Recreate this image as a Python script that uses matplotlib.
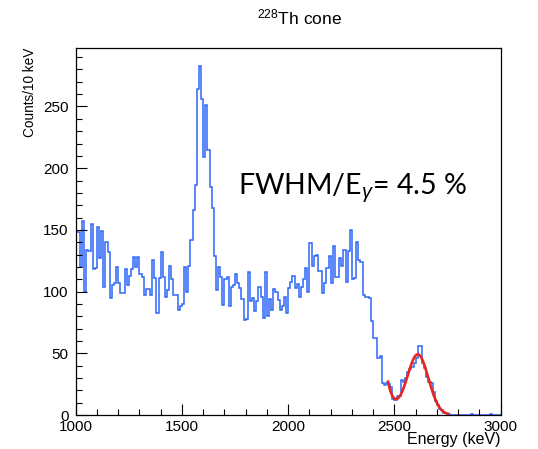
import numpy as np
import matplotlib
matplotlib.use("Agg")
import matplotlib.pyplot as plt
from matplotlib.ticker import MultipleLocator

plt.rcParams['font.family'] = ['Liberation Sans', 'DejaVu Sans']
plt.rcParams['mathtext.fontset'] = 'custom'
plt.rcParams['mathtext.rm'] = 'Liberation Sans'
plt.rcParams['mathtext.it'] = 'Liberation Sans:italic'

# 228Th spectrum, 10 keV bins from 1000 to 3000 keV
e_lo, e_hi, bin_w = 1000, 3000, 10
counts_1000_1500 = [148, 148, 120, 157, 100, 134, 133, 155, 118, 119,
                    152, 127, 149, 104, 140, 132, 95, 105, 107, 120,
                    107, 99, 99, 118, 105, 113, 118, 128, 120, 128,
                    114, 112, 97, 102, 102, 97, 126, 111, 83, 111,
                    132, 112, 96, 101, 121, 110, 97, 97, 85, 88]
counts_1500_2000 = [90, 120, 100, 121, 142, 166, 186, 264, 283, 256,
                    209, 251, 215, 185, 168, 129, 101, 120, 112, 89,
                    110, 112, 88, 104, 105, 114, 107, 103, 94, 77,
                    78, 116, 92, 95, 84, 92, 104, 96, 79, 116,
                    80, 94, 85, 102, 100, 93, 85, 88, 96, 83]
counts_2000_2500 = [103, 108, 113, 103, 106, 96, 104, 110, 119, 100,
                    139, 121, 129, 130, 117, 117, 99, 107, 119, 129,
                    107, 137, 112, 112, 127, 121, 134, 108, 133, 150,
                    110, 111, 140, 126, 124, 97, 96, 96, 95, 76,
                    62, 62, 46, 48, 26, 24, 26, 25, 23, 13]
counts_2500_3000 = [12, 15, 15, 28, 27, 30, 35, 37, 39, 42,
                    46, 56, 56, 42, 38, 31, 27, 26, 19, 11,
                    8, 5, 4, 2, 2, 1, 0, 0, 0, 0,
                    0, 0, 0, 0, 0, 0, 1, 0, 0, 0,
                    0, 0, 0, 0, 0, 1, 0, 0, 0, 0]
counts = np.array(counts_1000_1500 + counts_1500_2000 + counts_2000_2500 + counts_2500_3000)
edges = np.arange(e_lo, e_hi + bin_w, bin_w)

# 2614 keV peak fit: gaussian on a falling exponential background
fit_range = (2470, 2750)
peak_amp = 49.0
peak_mu = 2610.0
fwhm_frac = 0.045
bg_amp = 26.0
bg_slope = 0.035

sigma = fwhm_frac * peak_mu / 2.3548
ef = np.linspace(fit_range[0], fit_range[1], 300)
fit = peak_amp * np.exp(-0.5 * ((ef - peak_mu) / sigma) ** 2) + bg_amp * np.exp(-bg_slope * (ef - fit_range[0]))

fig = plt.figure(figsize=(5.38, 4.49), dpi=100)
ax = fig.add_axes([0.1407, 0.0757, 0.79, 0.8167])

ax.stairs(counts, edges, baseline=None, color='#2d66f6', lw=1.1)
ax.plot(ef, fit, color='#e8261f', lw=1.9)

ax.set_xlim(e_lo, e_hi)
ax.set_ylim(0, 1.05 * counts.max())

ax.xaxis.set_major_locator(MultipleLocator(500))
ax.xaxis.set_minor_locator(MultipleLocator(100))
ax.yaxis.set_major_locator(MultipleLocator(50))
ax.yaxis.set_minor_locator(MultipleLocator(10))
ax.tick_params(which='both', direction='in', top=False, right=False, labelsize=11, width=0.8)
ax.tick_params(axis='x', pad=3.5)
ax.tick_params(axis='y', pad=5)
ax.tick_params(which='major', length=8)
ax.tick_params(which='minor', length=4)
for s in ax.spines.values():
    s.set_linewidth(0.9)

fig.text(0.93, 0.004, 'Energy (keV)', ha='right', va='bottom', fontsize=11.5)
fig.text(0.055, 0.893, 'Counts/10 keV', rotation=90, ha='center', va='top', fontsize=9.8)
fig.text(0.557, 0.945, r'$^{228}$Th cone', ha='center', va='baseline', fontsize=12.5)
fig.text(0.442, 0.566, r'FWHM/E$_{\gamma}$= 4.5 %', ha='left', va='baseline',
         fontsize=20.5, family=['Lato', 'DejaVu Sans'])

fig.savefig('out.png', dpi=100)
